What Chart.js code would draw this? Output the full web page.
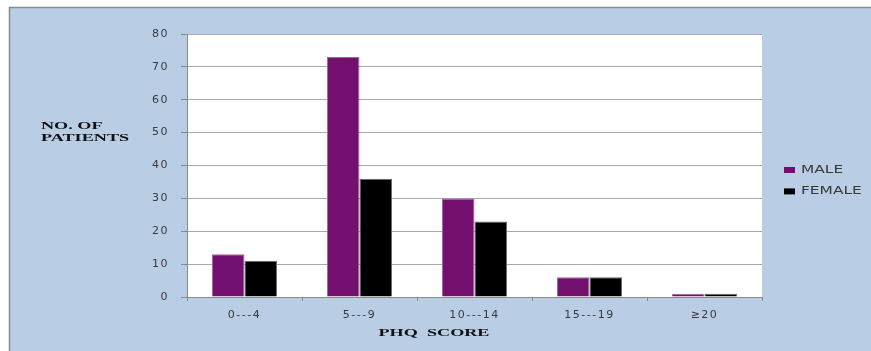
<!DOCTYPE html>
<html>
<head>
<meta charset="utf-8">
<script src="https://cdn.jsdelivr.net/npm/chart.js@4/dist/chart.umd.min.js"></script>
<style>
  html, body { margin: 0; padding: 0; background: #ffffff; }
  canvas { display: block; }
</style>
</head>
<body>
<canvas id="chart" width="871" height="351"></canvas>
<script>
// PHQ score distribution by sex
const categories = ['0---4', '5---9', '10---14', '15---19', '≥20'];
const maleCounts = [13, 73, 30, 6, 1];
const femaleCounts = [11, 36, 23, 6, 1];
const seriesNames = ['MALE', 'FEMALE'];
const yTicks = { min: 0, max: 80, step: 10 };
const yTitleLines = ['NO. OF', 'PATIENTS'];
const xTitle = 'PHQ  SCORE';

const PANEL_BG = '#b9cde5';
const FRAME_LINE = '#8a8a8a';
const TEXT_GREY = '#3a3a3a';
const MALE_FILL = '#730f6f';
const FEMALE_FILL = '#000000';

// Draws text stretched horizontally around its anchor
function wideText(ctx, text, x, y, sx, align) {
  ctx.save();
  ctx.translate(x, y);
  ctx.scale(sx, 1);
  ctx.textAlign = align;
  ctx.textBaseline = 'middle';
  ctx.fillText(text, 0, 0);
  ctx.restore();
}

const panelPlugin = {
  id: 'panel',
  beforeDraw(chart) {
    const { ctx, width, height, chartArea: a } = chart;
    ctx.save();
    ctx.fillStyle = '#ffffff';
    ctx.fillRect(0, 0, width, height);
    ctx.fillStyle = PANEL_BG;
    ctx.fillRect(9, 7, width - 9, height - 7);
    ctx.strokeStyle = FRAME_LINE;
    ctx.lineWidth = 1.5;
    ctx.beginPath();
    ctx.moveTo(9.5, height);
    ctx.lineTo(9.5, 7.5);
    ctx.lineTo(width, 7.5);
    ctx.stroke();
    ctx.fillStyle = '#ffffff';
    ctx.fillRect(a.left, a.top, a.right - a.left, a.bottom - a.top);
    ctx.restore();
    // wide tick lettering for the axes
    ctx.letterSpacing = '1.5px';
  },
  afterDraw(chart) {
    const { ctx, chartArea: a } = chart;
    ctx.save();
    ctx.letterSpacing = '0px';

    // axis titles
    ctx.fillStyle = '#111111';
    ctx.font = 'bold 11px "Liberation Serif", "Times New Roman", serif';
    wideText(ctx, yTitleLines[0], 41, a.top + 92, 1.65, 'left');
    wideText(ctx, yTitleLines[1], 41, a.top + 104, 1.65, 'left');
    wideText(ctx, xTitle, a.left + 247, a.bottom + 36, 1.65, 'center');

    // legend
    ctx.font = '11px "DejaVu Sans", sans-serif';
    chart.data.datasets.forEach((ds, i) => {
      const y = a.top + 136 + i * 21.4;
      ctx.fillStyle = ds.backgroundColor;
      ctx.fillRect(a.right + 22, y - 3, 11, 6);
      ctx.fillStyle = TEXT_GREY;
      wideText(ctx, ds.label, a.right + 39, y, 1.4, 'left');
    });
    ctx.restore();
  }
};

new Chart(document.getElementById('chart'), {
  type: 'bar',
  data: {
    labels: categories,
    datasets: [
      {
        label: seriesNames[0],
        data: maleCounts,
        backgroundColor: MALE_FILL,
        borderColor: '#a069a0',
        borderWidth: 1,
        categoryPercentage: 0.565,
        barPercentage: 1.0
      },
      {
        label: seriesNames[1],
        data: femaleCounts,
        backgroundColor: FEMALE_FILL,
        borderColor: '#6a6a6a',
        borderWidth: 1,
        categoryPercentage: 0.565,
        barPercentage: 1.0
      }
    ]
  },
  options: {
    responsive: false,
    animation: false,
    devicePixelRatio: 1,
    layout: { padding: { top: 34, right: 109, left: 0, bottom: 0 } },
    plugins: {
      legend: { display: false },
      tooltip: { enabled: false }
    },
    scales: {
      x: {
        grid: {
          offset: true,
          drawOnChartArea: false,
          drawTicks: true,
          tickLength: 4,
          tickColor: '#8a8a8a'
        },
        border: { color: '#8a8a8a', width: 1 },
        ticks: {
          color: TEXT_GREY,
          font: { family: '"DejaVu Sans", sans-serif', size: 11 },
          padding: 8,
          maxRotation: 0
        },
        afterFit(scale) { scale.height = 54; }
      },
      y: {
        min: yTicks.min,
        max: yTicks.max,
        ticks: {
          stepSize: yTicks.step,
          color: TEXT_GREY,
          font: { family: '"DejaVu Sans", sans-serif', size: 11 },
          padding: 12
        },
        grid: {
          color: '#a9a9a9',
          lineWidth: 1,
          tickLength: 6,
          tickColor: '#8a8a8a'
        },
        border: { color: '#8a8a8a', width: 1 },
        afterFit(scale) { scale.width = 187; }
      }
    }
  },
  plugins: [panelPlugin]
});
</script>
</body>
</html>
